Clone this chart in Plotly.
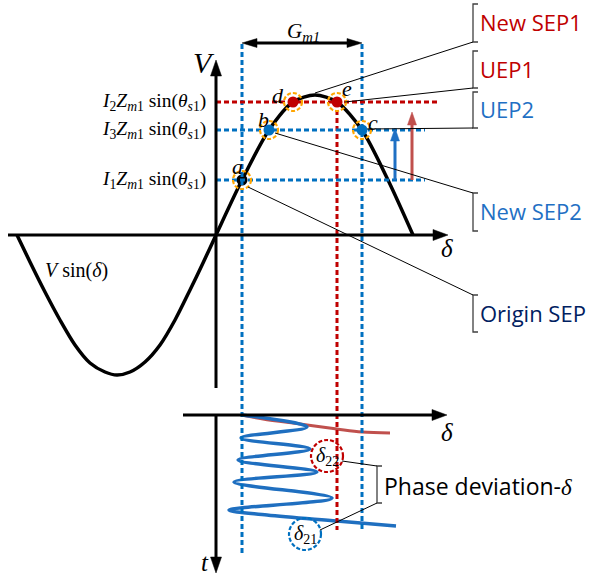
import plotly.graph_objects as go

# ---- data (delta offset from origin, V value; lower panel uses delta and t) ----
curve_delta = [-199, -186, -171, -156, -141, -126, -111, -99, -86, -71, -56, -41, -26, -13, 0,
               26, 53, 77, 99, 121, 146, 172, 197]
curve_v = [0, -27, -57, -85, -110, -128, -137, -140, -137, -127, -110, -85, -55, -28, 0,
           55, 105, 133, 140, 133, 105, 55, 0]

level_names = ["I1", "I3", "I2"]
level_v = [55, 105, 133]

point_names = ["a", "b", "c", "d", "e"]
point_delta = [26, 53, 146, 77, 121]
point_v = [55, 105, 105, 133, 133]

osc_delta = [26, 91, 25, 94, 22, 101, 18, 116, 13, 51, 121, 180]
osc_t = [0, 12, 23, 34, 45, 57, 67, 83, 95, 100, 106, 111]

new_delta = [26, 47, 84, 121, 146, 174]
new_t = [0, 4, 9, 14, 17, 18]

delta21 = [89, 119]   # delta, t of the delta_21 marker
delta22 = [111, 41]   # delta, t of the delta_22 marker

# ---- styling ----
BLUE = "#0070C0"
RED = "#C00000"
LBLUE = "#1F70C4"
LRED = "#C0504D"
NAVY = "#002060"
ORANGE = "#FFA500"
SERIF = "Liberation Serif"
SANS = "Open Sans"
T0 = -180  # vertical position of the lower delta axis

fig = go.Figure()
shapes = []
ann = []


def line(x0, y0, x1, y1, color="black", width=1.0, dash=None):
    shapes.append(dict(type="line", xref="x", yref="y", x0=x0, y0=y0, x1=x1, y1=y1,
                       line=dict(color=color, width=width, dash=dash), layer="above"))


def head(tx, ty, dx, dy, length, width, color):
    n = (dx * dx + dy * dy) ** 0.5
    ux, uy = dx / n, dy / n
    bx, by = tx - ux * length, ty - uy * length
    px, py = -uy * width / 2, ux * width / 2
    path = f"M{tx},{ty} L{bx + px},{by + py} L{bx - px},{by - py} Z"
    shapes.append(dict(type="path", xref="x", yref="y", path=path,
                       fillcolor=color, line=dict(color=color, width=0.5), layer="above"))


def arrow(x0, y0, x1, y1, color="black", width=3, hl=15, hw=11, both=False):
    dx, dy = x1 - x0, y1 - y0
    n = (dx * dx + dy * dy) ** 0.5
    ux, uy = dx / n, dy / n
    sx0, sy0 = (x0 + ux * hl * 0.8, y0 + uy * hl * 0.8) if both else (x0, y0)
    line(sx0, sy0, x1 - ux * hl * 0.8, y1 - uy * hl * 0.8, color, width)
    head(x1, y1, dx, dy, hl, hw, color)
    if both:
        head(x0, y0, -dx, -dy, hl, hw, color)


def text(x, y, s, size, color="black", family=SERIF, xa="center", ya="middle"):
    ann.append(dict(x=x, y=y, xref="x", yref="y", text=s, showarrow=False,
                    xanchor=xa, yanchor=ya, font=dict(size=size, color=color, family=family)))


dash_style = "5px,3px"

# guide lines through the operating points
line(point_delta[0], 191, point_delta[0], -321, BLUE, 3, dash_style)
line(point_delta[2], 191, point_delta[2], -297, BLUE, 3, dash_style)
line(point_delta[4], point_v[4], point_delta[4], -295, RED, 3, dash_style)
line(0, level_v[2], 224, level_v[2], RED, 3, dash_style)
line(0, level_v[1], 209, level_v[1], BLUE, 3, dash_style)
line(0, level_v[0], 209, level_v[0], BLUE, 3, dash_style)

# axes
arrow(-208, 0, 232, 0, "black", 3, 15, 11)
arrow(0, -153, 0, 175, "black", 3, 16, 11)
arrow(-33, T0, 231, T0, "black", 3, 15, 11)
arrow(0, T0, 0, -338, "black", 3, 16, 11)

# G_m1 span
arrow(point_delta[0], 192, point_delta[2], 192, "black", 3, 15, 9, both=True)
text((point_delta[0] + point_delta[2]) / 2 + 1, 203,
     "<i>G</i><sub><i>m1</i></sub>", 21)

# raise arrows
arrow(179, level_v[0], 179, level_v[1] + 2, LBLUE, 3, 13, 9)
arrow(196, level_v[0], 196, level_v[2] - 10, LRED, 3, 13, 9)

# sine curve
fig.add_trace(go.Scatter(x=curve_delta, y=curve_v, mode="lines",
                         line=dict(color="black", width=3.5, shape="spline", smoothing=0.8),
                         hoverinfo="skip"))

# lower panel trajectories
fig.add_trace(go.Scatter(x=new_delta, y=[T0 - t for t in new_t], mode="lines",
                         line=dict(color=LRED, width=3, shape="spline"), hoverinfo="skip"))
fig.add_trace(go.Scatter(x=osc_delta, y=[T0 - t for t in osc_t], mode="lines",
                         line=dict(color="#1F6FC0", width=3.5, shape="spline", smoothing=1.0),
                         hoverinfo="skip"))

# operating points with dashed rings
pcolors = ["black", BLUE, BLUE, RED, RED]
for xd, yv in zip(point_delta, point_v):
    shapes.append(dict(type="circle", xref="x", yref="y", x0=xd - 9, x1=xd + 9, y0=yv - 9, y1=yv + 9,
                       line=dict(color=ORANGE, width=2.2, dash="4px,2px"), layer="above"))
fig.add_trace(go.Scatter(x=point_delta, y=point_v, mode="markers",
                         marker=dict(color=pcolors, size=11), hoverinfo="skip"))
letter_pos = [(-5, 14), (-6, 11), (11, 8), (-15, 7), (10, 14)]
for nm, xd, yv, (ox, oy) in zip(point_names, point_delta, point_v, letter_pos):
    text(xd + ox, yv + oy, f"<i>{nm}</i>", 22)

# level labels
sub = {"I1": "1", "I2": "2", "I3": "3"}
for nm, yv in zip(level_names, level_v):
    text(-8, yv, f"<i>I</i><sub>{sub[nm]}</sub><i>Z</i><sub><i>m</i>1</sub> sin(<i>θ</i><sub><i>s</i>1</sub>)",
         19.5, xa="right")

# axis labels
text(-12, 173, "<i>V</i>", 30)
text(231, -13, "<i>δ</i>", 25)
text(231, T0 - 17, "<i>δ</i>", 25)
text(-11, -327, "<i>t</i>", 25)
text(-140, -35, "<i>V</i> sin(<i>δ</i>)", 20)

# bracket callouts
BX = 257
brackets = [
    ("New SEP1", 231, 193, RED, (99, 142), "bottom"),
    ("UEP1", 184, 147, RED, (129, 133), "bottom"),
    ("UEP2", 143, 107, LBLUE, (151, 106), "bottom"),
    ("New SEP2", 42, 4, LBLUE, (59, 102), "top"),
    ("Origin SEP", -60, -97, NAVY, (32, 48), "top"),
]
for label, ytop, ybot, col, (sx, sy), end in brackets:
    path = f"M{BX + 5},{ytop} L{BX},{ytop} L{BX},{ybot} L{BX + 5},{ybot}"
    shapes.append(dict(type="path", xref="x", yref="y", path=path, line=dict(color="#404040", width=1.3)))
    line(sx, sy, BX, ybot if end == "bottom" else ytop, "black", 1)
    text(BX + 5, (ytop + ybot) / 2 + 1, label, 22, col, SANS, xa="left")

# phase deviation markers
for (xd, tt), col, s in [(delta22, RED, "22"), (delta21, BLUE, "21")]:
    yc = T0 - tt
    shapes.append(dict(type="circle", xref="x", yref="y", x0=xd - 16, x1=xd + 16, y0=yc - 16, y1=yc + 16,
                       line=dict(color=col, width=2.2, dash="4px,2px"), layer="above"))
    text(xd, yc, f"<i>δ</i><sub>{s}</sub>", 20)
PX = 161
path = f"M{PX + 5},-231 L{PX},-231 L{PX},-268 L{PX + 5},-268"
shapes.append(dict(type="path", xref="x", yref="y", path=path, line=dict(color="#404040", width=1.3)))
line(126, -226, PX, -231, "black", 1)
line(104, -295, PX, -268, "black", 1)
text(PX + 5, -251, "Phase deviation-<i><span style='font-family:Liberation Serif'>δ</span></i>",
     23, "black", SANS, xa="left")

fig.update_layout(
    width=589, height=576, autosize=False,
    margin=dict(l=0, r=0, t=0, b=0, pad=0),
    paper_bgcolor="white", plot_bgcolor="white",
    showlegend=False, shapes=shapes, annotations=ann,
    xaxis=dict(range=[-216, 373], visible=False, fixedrange=True),
    yaxis=dict(range=[-341, 235], visible=False, fixedrange=True),
)
fig.write_html("out.html")
